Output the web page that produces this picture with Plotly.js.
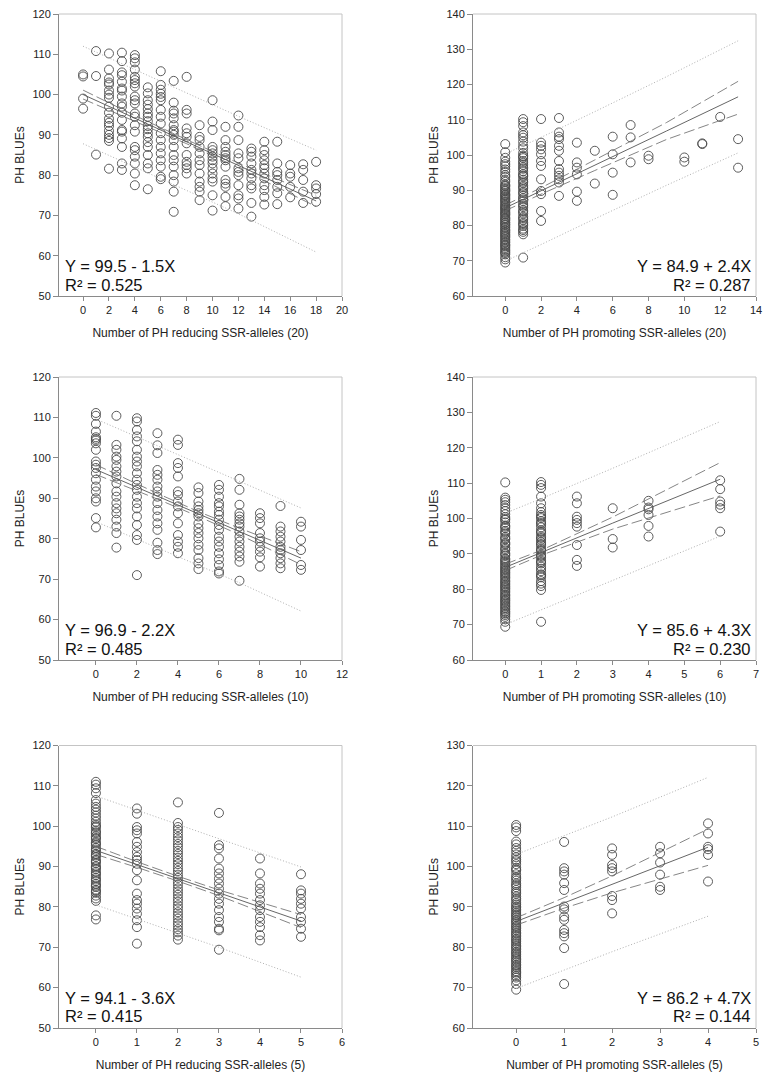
<!DOCTYPE html>
<html><head><meta charset="utf-8">
<script src="https://cdn.plot.ly/plotly-3.0.1.min.js"></script>
<style>html,body{margin:0;padding:0;background:#fff}#chart{width:772px;height:1081px}</style>
</head><body><div id="chart"></div>
<script>
// ---------- Panel 1: PH reducing SSR-alleles (20) ----------
const p1Cols = [0,1,2,3,4,5,6,7,8,9,10,11,12,13,14,15,16,17,18];
const p1Vals = [
 [105, 104.5, 99, 96.5],
 [110.8, 104.6, 85.1],
 [110.2, 106.2, 104, 103, 102.5, 101, 100, 99.2, 97, 95.5, 94, 93, 92.2, 91, 90, 89.2, 88.5, 81.6],
 [110.4, 108.3, 105.5, 104.8, 103.2, 101.5, 101, 99.5, 97.8, 97, 95.5, 93.7, 91.2, 90.8, 89.1, 87, 82.9, 81.3],
 [109.8, 109, 108, 106.2, 104.4, 103.6, 102.8, 102, 99.5, 98.6, 97.8, 95.3, 94.5, 92.4, 90.8, 87, 86.2, 84.6, 82.9, 80.4, 77.5],
 [101.8, 100.3, 98.6, 97.5, 96.4, 95.3, 94.5, 93.4, 92.2, 91.4, 90.4, 89.5, 88.2, 87, 85, 82.9, 81.7, 76.5],
 [105.8, 102.4, 101.2, 100.2, 99.4, 98.6, 96.2, 94.5, 92.8, 90.4, 88.7, 87, 85.4, 83.7, 82.1, 79.6, 79],
 [103.4, 98, 96, 95.3, 94.1, 92.4, 91.2, 90.8, 90, 88.7, 87, 85, 83.7, 82.1, 80, 78.4, 75.9, 70.9],
 [104.4, 96.2, 95.3, 91.6, 90.4, 89.5, 87.9, 85, 83.3, 82.5, 81.7, 80.4],
 [92.4, 89.5, 88.7, 87, 85.4, 83.7, 82.5, 80.4, 78.4, 77.1, 75.9, 73.8],
 [98.6, 93.3, 91.2, 87, 86.2, 85.4, 84.6, 83.7, 82.9, 81.7, 80.4, 79.2, 78.4, 75, 71.2],
 [92, 88.7, 87, 85.8, 85, 84.2, 83.7, 82.1, 78.8, 77.9, 77.1, 74.6, 72.3],
 [94.8, 92, 88.7, 85.4, 84.2, 81.7, 80.8, 80, 77.5, 75, 74.2, 71.7],
 [86.6, 85.8, 84.6, 82.9, 81.3, 80.4, 79.2, 77.5, 76.7, 73.1, 69.7],
 [88.3, 86.2, 85, 83.7, 82.5, 81.7, 80.4, 79.2, 77.5, 76.3, 74.6, 72.7],
 [88.3, 82.9, 80.8, 80, 78.8, 77.1, 75.5, 72.8],
 [82.5, 80.4, 79.6, 77.1, 74.5],
 [82.7, 81.3, 78.8, 75.9, 73.1],
 [83.3, 77.5, 76.7, 75.3, 73.4]
];
const p1FitX = [0, 4, 8, 12, 18];
const p1Fit  = [100.0, 94.1, 88.3, 82.4, 73.6];
const p1CiUp = [101.1, 94.8, 88.8, 83.0, 75.0];
const p1CiLo = [98.9, 93.4, 87.8, 81.8, 72.2];
const p1PiUp = [112.0, 106.2, 100.4, 94.6, 86.2];
const p1PiLo = [87.8, 82.0, 76.2, 70.4, 60.9];

// ---------- Panel 2: PH promoting SSR-alleles (20) ----------
const p2Cols = [0,1,2,3,4,5,6,7,8,10,11,12,13];
const p2Vals = [
 [103.1, 100.8, 99.2, 98.1, 97.4, 96.8, 95.9, 95.2, 94.3, 93.8, 92.9, 92.4, 91.6, 91.1, 90.2, 89.7, 88.8, 88.3, 87.6, 86.9, 86.2, 85.8, 84.9, 84.3, 83.6, 83.1, 82.2, 81.7, 80.9, 80.3, 79.6, 78.8, 78.2, 77.5, 76.9, 76.1, 75.4, 74.6, 74.1, 73.3, 72.5, 71.8, 71.0, 70.4, 69.5,
  91.3, 90.6, 89.9, 89.2, 88.6, 87.9, 87.3, 86.6, 85.5, 85.1, 84.6, 83.9, 83.3, 82.7, 82.0, 81.4, 80.7, 80.1, 79.3, 78.6, 77.9, 77.2, 76.6, 75.8, 75.1, 74.4, 73.7, 72.9, 72.2],
 [110.2, 109.3, 108.2, 106.4, 105.6, 104.9, 103.8, 102.7, 101.9, 100.6, 99.8, 99.1, 98.3, 97.2, 96.5, 95.4, 94.6, 93.9, 93.0, 92.1, 91.3, 90.4, 89.6, 88.5, 87.8, 86.9, 86.1, 85.2, 84.3, 83.4, 82.5, 81.6, 80.8, 79.9, 79.1, 78.2, 77.5, 70.9,
  99.5, 97.8, 96.1, 94.2, 92.5, 90.9, 89.2, 87.4, 85.6, 83.9, 82.1, 80.4, 78.7],
 [110.2, 103.5, 102.6, 101.6, 100.2, 98.3, 96.9, 93.1, 89.8, 88.9, 84.1, 81.3],
 [110.5, 106.4, 105.2, 104.5, 102.6, 101.2, 98.3, 96.0, 95.0, 94.1, 93.1, 92.2, 88.4],
 [103.5, 97.9, 96.4, 94.5, 89.6, 87.0],
 [101.2, 91.9],
 [105.2, 100.2, 95.0, 88.7],
 [108.5, 105.0, 97.9],
 [99.8, 98.8],
 [99.3, 98.1],
 [103.3, 103.1],
 [110.8],
 [104.5, 96.4]
];
const p2FitX = [0, 2, 5, 9, 13];
const p2Fit  = [85.0, 89.8, 97.1, 106.8, 116.5];
const p2CiUp = [85.8, 90.7, 98.6, 109.2, 120.9];
const p2CiLo = [84.2, 88.9, 95.6, 104.4, 111.6];
const p2PiUp = [100.3, 105.0, 112.3, 122.2, 132.4];
const p2PiLo = [69.9, 74.6, 81.9, 91.4, 100.6];

// ---------- Panel 3: PH reducing SSR-alleles (10) ----------
const p3Cols = [0,1,2,3,4,5,6,7,8,9,10];
const p3Vals = [
 [111.1, 110.4, 108.4, 106.5, 105.1, 104.7, 104.3, 103.6, 102.0, 99.1, 98.3, 97.5, 96.2, 94.6, 92.9, 91.7, 90.0, 89.2, 85.1, 82.8],
 [110.4, 103.2, 102.0, 100.3, 99.5, 97.9, 96.6, 95.4, 93.7, 91.7, 90.4, 88.8, 87.5, 86.3, 84.7, 83.0, 81.4, 77.8],
 [109.8, 109.0, 106.9, 105.3, 104.1, 102.0, 100.3, 99.1, 97.9, 96.2, 94.6, 93.3, 92.1, 90.4, 88.8, 87.5, 85.5, 83.4, 80.9, 79.7, 71.0],
 [106.1, 103.1, 101.2, 97.0, 95.8, 94.6, 92.9, 91.7, 90.4, 88.8, 87.1, 85.5, 83.8, 82.2, 79.0, 77.2, 76.2],
 [104.5, 103.2, 98.7, 97.5, 95.4, 91.7, 90.8, 89.2, 88.0, 86.3, 83.8, 80.9, 79.3, 78.0, 76.4],
 [92.7, 91.3, 89.2, 88.0, 87.1, 86.3, 85.5, 83.8, 82.6, 81.4, 80.1, 78.5, 77.2, 75.2, 73.9, 72.5],
 [93.3, 92.1, 90.4, 88.8, 88.0, 86.7, 85.9, 84.7, 83.4, 82.2, 80.5, 79.3, 78.0, 76.4, 74.9, 73.5, 71.9, 71.4],
 [94.8, 92.1, 88.4, 86.3, 85.5, 84.7, 83.8, 83.0, 81.8, 80.5, 79.3, 78.0, 76.8, 75.6, 74.3, 69.6],
 [86.3, 85.1, 83.8, 81.4, 80.1, 79.3, 78.0, 76.8, 75.4, 73.1],
 [88.1, 83.0, 81.8, 80.5, 79.3, 78.0, 77.2, 76.4, 75.2, 73.9, 72.7],
 [84.2, 83.0, 79.7, 77.2, 73.5, 72.3]
];
const p3FitX = [0, 3, 5, 7, 10];
const p3Fit  = [97.1, 90.5, 86.1, 81.8, 75.2];
const p3CiUp = [98.3, 91.2, 86.7, 82.6, 76.8];
const p3CiLo = [95.9, 89.8, 85.5, 81.0, 73.6];
const p3PiUp = [109.6, 103.0, 98.6, 94.3, 87.6];
const p3PiLo = [84.2, 77.7, 73.4, 69.1, 62.1];

// ---------- Panel 4: PH promoting SSR-alleles (10) ----------
const p4Cols = [0,1,2,3,4,6];
const p4Vals = [
 [110.2, 105.9, 105.3, 104.6, 103.8, 102.9, 102.1, 101.2, 100.4, 99.6, 98.9, 98.0, 97.3, 96.5, 95.7, 94.8, 94.1, 93.2, 92.6, 91.8, 91.0, 90.2, 89.5, 88.7, 88.0, 87.2, 86.3, 85.6, 84.8, 84.1, 83.3, 82.4, 81.7, 80.9, 80.2, 79.4, 78.5, 77.8, 77.0, 76.3, 75.5, 74.7, 73.8, 73.1, 72.2, 71.5, 70.8, 69.4,
  99.9, 97.7, 96.1, 94.4, 92.9, 91.4, 89.9, 88.4, 87.6, 86.8, 85.9, 85.2, 84.5, 83.7, 82.9, 82.1, 81.3, 80.6, 79.8, 79.0, 78.2, 77.4, 76.7, 75.9, 75.1, 74.3, 73.5, 72.7],
 [110.3, 109.5, 108.6, 106.2, 104.3, 102.9, 101.8, 101.0, 100.1, 99.2, 98.3, 97.5, 96.6, 95.8, 94.9, 94.0, 93.3, 92.4, 91.5, 90.7, 89.8, 89.0, 88.1, 87.3, 86.4, 85.1, 84.2, 83.4, 82.3, 80.9, 79.8, 70.8,
  100.5, 98.7, 96.2, 94.5, 92.8, 91.1, 89.4, 87.7, 85.8, 83.9, 81.6],
 [106.2, 104.3, 100.5, 99.6, 98.7, 97.7, 92.5, 88.3, 86.6],
 [102.9, 94.2, 91.8],
 [105.0, 103.1, 102.6, 101.0, 97.9, 94.9],
 [110.8, 108.3, 104.8, 103.9, 102.9, 96.3]
];
const p4FitX = [0, 1, 3, 6];
const p4Fit  = [86.2, 90.3, 98.7, 111.1];
const p4CiUp = [87.1, 91.0, 100.4, 115.8];
const p4CiLo = [85.3, 89.6, 97.0, 106.4];
const p4PiUp = [101.5, 105.6, 114.2, 127.4];
const p4PiLo = [70.0, 74.2, 82.6, 95.0];

// ---------- Panel 5: PH reducing SSR-alleles (5) ----------
const p5Cols = [0,1,2,3,4,5];
const p5Vals = [
 [111.0, 110.3, 109.4, 108.2, 106.5, 105.6, 104.8, 104.1, 103.4, 102.6, 101.9, 101.1, 100.4, 99.7, 98.9, 98.2, 97.5, 96.8, 96.0, 95.3, 94.6, 93.8, 93.1, 92.4, 91.6, 90.9, 90.1, 89.4, 88.7, 87.9, 87.2, 86.4, 85.7, 85.0, 84.2, 83.5, 82.8, 82.1, 81.5, 77.9, 76.9,
  100.0, 98.5, 97.1, 95.7, 94.2, 92.8, 91.3, 89.8, 88.3, 86.8, 85.3, 83.9],
 [104.4, 103.1, 99.8, 99.0, 98.2, 96.1, 94.9, 93.6, 92.4, 91.6, 90.7, 89.1, 86.6, 83.3, 81.7, 80.8, 79.6, 78.3, 76.7, 75.0, 70.9],
 [105.9, 100.8, 99.8, 99.1, 98.2, 97.3, 96.5, 95.6, 94.8, 93.9, 93.1, 92.2, 91.4, 90.6, 89.7, 88.9, 88.0, 87.2, 86.3, 85.5, 84.6, 83.8, 83.0, 82.1, 81.3, 80.4, 79.6, 78.7, 77.9, 77.1, 76.2, 75.4, 74.5, 73.7, 72.9, 71.9],
 [103.3, 95.3, 94.5, 92.0, 89.5, 88.3, 87.0, 85.8, 84.5, 83.3, 82.0, 80.8, 79.2, 77.5, 76.3, 74.6, 74.2, 69.4],
 [92.0, 88.3, 85.8, 84.5, 83.3, 81.7, 80.4, 79.2, 77.5, 76.3, 75.0, 73.0, 71.7],
 [88.1, 84.1, 83.3, 82.0, 80.8, 79.6, 77.5, 76.3, 74.6, 72.6]
];
const p5FitX = [0, 1, 2, 3, 5];
const p5Fit  = [94.0, 90.5, 87.0, 83.5, 76.5];
const p5CiUp = [95.0, 91.2, 87.6, 84.2, 78.1];
const p5CiLo = [93.0, 89.8, 86.4, 82.8, 74.9];
const p5PiUp = [107.5, 103.9, 100.4, 96.9, 89.9];
const p5PiLo = [80.5, 77.0, 73.5, 70.0, 62.6];

// ---------- Panel 6: PH promoting SSR-alleles (5) ----------
const p6Cols = [0,1,2,3,4];
const p6Vals = [
 [110.3, 109.7, 108.8, 106.2, 105.5, 104.6, 103.9, 103.0, 102.3, 101.3, 100.6, 99.7, 99.0, 98.1, 97.4, 96.5, 95.8, 94.9, 94.2, 93.3, 92.6, 91.7, 91.0, 90.1, 89.4, 88.5, 87.8, 86.9, 86.2, 85.3, 84.6, 83.7, 83.0, 82.1, 81.4, 80.5, 79.8, 78.9, 78.2, 77.3, 76.6, 75.7, 75.0, 74.1, 73.4, 72.5, 71.8, 70.9, 69.5,
  101.7, 99.3, 97.0, 95.4, 93.7, 92.1, 90.6, 89.8, 89.0, 88.1, 87.4, 86.6, 85.8, 85.0, 84.2, 83.4, 82.6, 81.8, 81.0, 80.2, 79.4, 78.6, 77.8, 77.0, 76.2, 75.4, 74.6, 73.8, 72.9],
 [106.1, 99.6, 98.8, 98.0, 95.9, 94.2, 90.1, 89.4, 87.6, 86.8, 84.3, 83.5, 82.7, 79.8, 70.9],
 [104.5, 102.9, 100.4, 99.6, 98.8, 92.7, 91.7, 88.4],
 [104.9, 103.3, 101.0, 98.0, 95.0, 94.2],
 [110.7, 108.2, 104.9, 104.3, 102.9, 96.3]
];
const p6FitX = [0, 1, 2, 4];
const p6Fit  = [86.4, 91.0, 95.6, 104.8];
const p6CiUp = [87.3, 92.3, 97.7, 109.3];
const p6CiLo = [85.5, 89.7, 93.5, 100.3];
const p6PiUp = [103.0, 107.6, 112.3, 122.1];
const p6PiLo = [69.8, 74.4, 78.9, 87.7];

// ---------- Text ----------
const xTitles = [
 'Number of PH reducing SSR-alleles (20)', 'Number of PH promoting SSR-alleles (20)',
 'Number of PH reducing SSR-alleles (10)', 'Number of PH promoting SSR-alleles (10)',
 'Number of PH reducing SSR-alleles (5)',  'Number of PH promoting SSR-alleles (5)'];
const yTitle = 'PH BLUEs';
const eqTexts = ['Y = 99.5 - 1.5X','Y = 84.9 + 2.4X','Y = 96.9 - 2.2X','Y = 85.6 + 4.3X','Y = 94.1 - 3.6X','Y = 86.2 + 4.7X'];
const r2Texts = ['R² = 0.525','R² = 0.287','R² = 0.485','R² = 0.230','R² = 0.415','R² = 0.144'];
const xRanges = [[-1.86,20],[-1.8,14],[-1.8,12],[-0.9,7],[-0.9,6],[-0.9,5]];
const xTicks = [[0,2,4,6,8,10,12,14,16,18,20],[0,2,4,6,8,10,12,14],[0,2,4,6,8,10,12],[0,1,2,3,4,5,6,7],[0,1,2,3,4,5,6],[0,1,2,3,4,5]];
const yRanges = [[50,120],[60,140],[50,120],[60,140],[50,120],[60,130]];

// ---------- Build ----------
const W = 772, H = 1081;
const FONT = 'Liberation Sans, Arial, Helvetica, sans-serif';
const colPx = [[59,342],[473,756]];
const rowPx = [[14,296],[377,660],[745.5,1028]];
const panels = [
 [p1Cols,p1Vals,p1FitX,p1Fit,p1CiUp,p1CiLo,p1PiUp,p1PiLo],
 [p2Cols,p2Vals,p2FitX,p2Fit,p2CiUp,p2CiLo,p2PiUp,p2PiLo],
 [p3Cols,p3Vals,p3FitX,p3Fit,p3CiUp,p3CiLo,p3PiUp,p3PiLo],
 [p4Cols,p4Vals,p4FitX,p4Fit,p4CiUp,p4CiLo,p4PiUp,p4PiLo],
 [p5Cols,p5Vals,p5FitX,p5Fit,p5CiUp,p5CiLo,p5PiUp,p5PiLo],
 [p6Cols,p6Vals,p6FitX,p6Fit,p6CiUp,p6CiLo,p6PiUp,p6PiLo]
];
const traces = [];
const layout = {
 width: W, height: H, margin:{l:0,r:0,t:0,b:0}, showlegend:false,
 paper_bgcolor:'#fff', plot_bgcolor:'#fff', font:{family:FONT, color:'#222'},
 shapes:[], annotations:[]
};
const px = x => x / W, py = y => 1 - y / H;

panels.forEach((p, i) => {
 const n = i + 1, sfx = n === 1 ? '' : String(n);
 const xa = 'x' + sfx, ya = 'y' + sfx;
 const col = i % 2, row = Math.floor(i / 2);
 const [cols, vals, fx, fit, cu, cl, pu, pl] = p;
 const xs = [], ys = [];
 cols.forEach((c, k) => vals[k].forEach(v => { xs.push(c); ys.push(v); }));
 traces.push({x:xs, y:ys, xaxis:xa, yaxis:ya, type:'scatter', mode:'markers',
   marker:{symbol:'circle-open', size:9, color:'#4a4a4a', line:{width:0.9}}, hoverinfo:'skip'});
 [pu, pl].forEach(arr => traces.push({x:fx, y:arr, xaxis:xa, yaxis:ya, mode:'lines', type:'scatter',
   line:{color:'#b0b0b0', width:1, dash:'1px,2px'}, hoverinfo:'skip'}));
 [cu, cl].forEach(arr => traces.push({x:fx, y:arr, xaxis:xa, yaxis:ya, mode:'lines', type:'scatter',
   line:{color:'#666', width:0.8, dash:'11px,4px'}, hoverinfo:'skip'}));
 traces.push({x:fx, y:fit, xaxis:xa, yaxis:ya, mode:'lines', type:'scatter',
   line:{color:'#555', width:0.9}, hoverinfo:'skip'});

 const axCommon = {showline:true, linecolor:'#8a8a8a', linewidth:1, ticks:'outside', tickcolor:'#8a8a8a',
   showgrid:false, zeroline:false, tickfont:{size:11, family:FONT, color:'#222'}, fixedrange:true, automargin:false};
 layout['xaxis' + sfx] = Object.assign({}, axCommon, {
   domain:[px(colPx[col][0]), px(colPx[col][1])], range:xRanges[i], tickvals:xTicks[i],
   ticklen:4, anchor:ya,
   title:{text:xTitles[i], font:{size:12, family:FONT, color:'#222'}, standoff:13}});
 layout['yaxis' + sfx] = Object.assign({}, axCommon, {
   domain:[py(rowPx[row][1]), py(rowPx[row][0])], range:yRanges[i], dtick:10, tick0:0,
   ticklen:5, anchor:xa,
   title:{text:yTitle, font:{size:12, family:FONT, color:'#222'}, standoff:5}});
 // lighter top/right frame
 layout.shapes.push({type:'line', xref:xa+' domain', yref:ya+' domain', x0:0, x1:1, y0:1, y1:1, line:{color:'#c4c4c4', width:1}});
 layout.shapes.push({type:'line', xref:xa+' domain', yref:ya+' domain', x0:1, x1:1, y0:0, y1:1, line:{color:'#c4c4c4', width:1}});

 const bottom = rowPx[row][1];
 const left = col === 0;
 const ex = left ? px(63) : px(753);
 layout.annotations.push({xref:'paper', yref:'paper', x:ex, y:py(bottom - 30), text:eqTexts[i], showarrow:false,
   xanchor:left ? 'left' : 'right', yanchor:'middle', font:{size:16.5, family:FONT, color:'#111'}});
 layout.annotations.push({xref:'paper', yref:'paper', x:ex, y:py(bottom - 11.5), text:r2Texts[i], showarrow:false,
   xanchor:left ? 'left' : 'right', yanchor:'middle', font:{size:16.5, family:FONT, color:'#111'}});
});

Plotly.newPlot('chart', traces, layout, {staticPlot:true, displayModeBar:false});
</script></body></html>
